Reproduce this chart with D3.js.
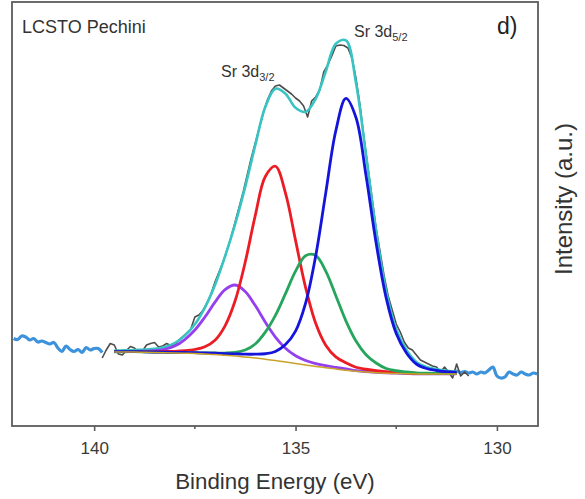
<!DOCTYPE html>
<html>
<head>
<meta charset="utf-8">
<script src="https://cdn.jsdelivr.net/npm/d3@7"></script>
<style>
  body { margin: 0; background: #fff; }
  svg { display: block; font-family: "Liberation Sans", Arial, sans-serif; }
</style>
</head>
<body>
<div id="chart"></div>
<script>
// raw spectrum outside the fit window, 0.1 eV steps
const rawLeftStart = 142.0;   // 142.0 -> 139.8 eV
const rawLeft = [175, 173, 180, 178, 172, 175, 168, 170, 167, 164, 167, 156, 149, 160, 153, 149,
  153, 147, 157, 152, 155, 155, 147];
const rawRightStart = 131.5;  // 131.5 -> 129.0 eV
const rawRight = [110, 108, 109, 108, 106, 110, 107, 109, 106, 108, 104, 108, 106, 112, 118, 100,
  96, 98, 108, 104, 102, 108, 104, 102, 106, 104];

// measured counts inside the fit window, 139.8 -> 130.7 eV, 0.1 eV steps
const measuredStart = 139.8;
const measured = [136, 152, 165, 162, 144, 142, 151, 159, 156, 148, 150, 162, 165, 167, 158, 160,
  165, 161, 162, 172, 179, 186, 194, 218, 222, 231, 246, 264, 288, 308, 328, 352, 378, 408, 438,
  468, 502, 536, 566, 596, 626, 652, 670, 680, 682, 676, 670, 664, 656, 650, 640, 618, 650, 658,
  672, 708, 722, 740, 760, 762, 761, 756, 736, 696, 642, 576, 516, 456, 396, 348, 300, 260, 232,
  204, 188, 168, 156, 152, 142, 132, 128, 124, 120, 118, 108, 118, 108, 96, 124, 100, 108, 100];

// fit on a 0.25 eV grid, 139.5 -> 131.0 eV; components are heights above the background
const fitStart = 139.5;
const background = [148, 148, 148, 147.5, 147, 146.5, 146, 145.5, 145, 144, 143, 141.5, 140, 138,
  136, 133.5, 131, 128, 125, 122, 119, 116.5, 114, 111.5, 109.5, 108, 106.5, 105.5, 105, 104.5,
  104, 104, 104, 104, 104];
const sr3d52 = [0.6, 0.7, 0.8, 0.9, 1.0, 1.1, 1.3, 1.5, 1.8, 2.2, 2.7, 3.4, 4.3, 5.6, 7.6, 11.0,
  18.0, 34.8, 64.9, 123.8, 221.1, 349.7, 476.5, 543.6, 507.5, 392.9, 259.8, 150.7, 80.1, 42.1,
  20.0, 11.0, 7.0, 4.5, 3.0];
const sr3d32 = [0.8, 1.0, 1.2, 1.5, 1.9, 2.5, 3.4, 5.0, 8.0, 14.5, 28.5, 58.8, 110.4, 189.5, 285.0,
  365.6, 388.5, 337.9, 246.3, 154.9, 86.5, 45.2, 24.3, 14.8, 8.0, 5.5, 4.0, 3.0, 2.3, 1.8, 1.4,
  1.1, 0.9, 0.8, 0.7];
const srB52 = [0.5, 0.5, 0.6, 0.7, 0.8, 0.9, 1.1, 1.3, 1.7, 2.2, 3.0, 4.4, 7.2, 14.0, 28.0, 54.2,
  90.2, 136.6, 184.7, 218.6, 222.1, 193.3, 146.5, 98.8, 60.4, 34.6, 19.5, 9.5, 5.5, 3.6, 2.4, 1.7,
  1.2, 0.9, 0.7];
const srB32 = [0.8, 1.0, 1.4, 2.2, 3.6, 7.0, 13.8, 27.4, 46.9, 74.0, 104.8, 131.2, 142.0, 131.2,
  104.8, 74.0, 46.9, 27.4, 15.4, 8.9, 5.7, 4.1, 3.2, 2.6, 1.2, 1.0, 0.8, 0.7, 0.6, 0.5, 0.4, 0.4,
  0.3, 0.3, 0.3];

const xTicks = [140, 135, 130];
const xMinorTicks = [137.5, 132.5];

const components = [
  { name: "Sr 3d3/2 (2)", values: srB32, color: "#9440ee" },
  { name: "Sr 3d3/2", values: sr3d32, color: "#ec1c24" },
  { name: "Sr 3d5/2 (2)", values: srB52, color: "#26a55c" },
  { name: "Sr 3d5/2", values: sr3d52, color: "#1414dc" }
];

const width = 585;
const height = 499;
const margin = { top: 2, right: 47, bottom: 73, left: 12 };
const plotW = width - margin.left - margin.right;
const plotH = height - margin.top - margin.bottom;

const x = d3.scaleLinear().domain([142.04, 128.98]).range([0, plotW]);
const y = d3.scaleLinear().domain([0, 848]).range([plotH, 0]);

const toPoints = (start, step, vals) => vals.map((v, i) => ({ e: start - i * step, v }));

const svg = d3.select("#chart").append("svg")
  .attr("width", width).attr("height", height);

svg.append("defs").append("clipPath").attr("id", "plot-clip")
  .append("rect").attr("width", plotW).attr("height", plotH);

const g = svg.append("g").attr("transform", `translate(${margin.left},${margin.top})`);
const plot = g.append("g").attr("clip-path", "url(#plot-clip)");

const line = d3.line().x(d => x(d.e)).y(d => y(d.v));
const smooth = d3.line().x(d => x(d.e)).y(d => y(d.v)).curve(d3.curveCatmullRom);

// RAW DATA
[toPoints(rawLeftStart, 0.1, rawLeft), toPoints(rawRightStart, 0.1, rawRight)].forEach(pts => {
  plot.append("path").datum(pts)
    .attr("fill", "none").attr("stroke", "#3d92dc").attr("stroke-width", 3.2)
    .attr("stroke-linejoin", "round")
    .attr("d", smooth);
});

plot.append("path").datum(toPoints(measuredStart, 0.1, measured))
  .attr("fill", "none").attr("stroke", "#4d4d4d").attr("stroke-width", 1.6)
  .attr("stroke-linejoin", "round")
  .attr("d", line);

// ENVELOPE
const envelope = background.map((b, i) => b + d3.sum(components, c => c.values[i]));
plot.append("path").datum(toPoints(fitStart, 0.25, envelope))
  .attr("fill", "none").attr("stroke", "#38c4c2").attr("stroke-width", 2.6)
  .attr("d", smooth);

// COMPONENTS
components.forEach(c => {
  const vals = c.values.map((v, i) => v + background[i]);
  plot.append("path").datum(toPoints(fitStart, 0.25, vals))
    .attr("fill", "none").attr("stroke", c.color).attr("stroke-width", 2.8)
    .attr("d", smooth);
});

plot.append("path").datum(toPoints(fitStart, 0.25, background))
  .attr("fill", "none").attr("stroke", "#c9a227").attr("stroke-width", 1.5)
  .attr("d", smooth);

// FRAME + AXIS
g.append("rect").attr("width", plotW).attr("height", plotH)
  .attr("fill", "none").attr("stroke", "#5c5c5c").attr("stroke-width", 1.8);

const xAxis = g.append("g").attr("transform", `translate(0,${plotH})`)
  .call(d3.axisBottom(x).tickValues(xTicks).tickSize(5).tickPadding(11).tickFormat(d3.format("d")));
xAxis.select(".domain").remove();
xAxis.selectAll("line").attr("stroke", "#5c5c5c").attr("stroke-width", 1.6);
xAxis.selectAll("text").attr("font-size", 17).attr("fill", "#3a3a3a")
  .attr("font-family", "Liberation Sans, Arial, sans-serif");

g.append("g").selectAll("line").data(xMinorTicks).join("line")
  .attr("x1", d => x(d)).attr("x2", d => x(d))
  .attr("y1", plotH).attr("y2", plotH + 3)
  .attr("stroke", "#5c5c5c").attr("stroke-width", 1.6);

// TITLES
svg.append("text")
  .attr("x", 275).attr("y", 489)
  .attr("text-anchor", "middle").attr("font-size", 22.3).attr("fill", "#333")
  .text("Binding Energy (eV)");

svg.append("text")
  .attr("transform", "translate(572,199) rotate(-90)")
  .attr("text-anchor", "middle").attr("font-size", 24).attr("fill", "#333")
  .text("Intensity (a.u.)");

svg.append("text").attr("x", 22).attr("y", 33)
  .attr("font-size", 18).attr("fill", "#333").text("LCSTO Pechini");

svg.append("text").attr("x", 497).attr("y", 34)
  .attr("font-size", 23).attr("fill", "#222").text("d)");

const peakLabel = (px, py, sub) => {
  const t = svg.append("text").attr("x", px).attr("y", py)
    .attr("font-size", 16).attr("fill", "#333");
  t.append("tspan").text("Sr 3d");
  t.append("tspan").attr("font-size", 11).attr("dy", 4).text(sub);
};
peakLabel(221, 77, "3/2");
peakLabel(354, 37, "5/2");
</script>
</body>
</html>
